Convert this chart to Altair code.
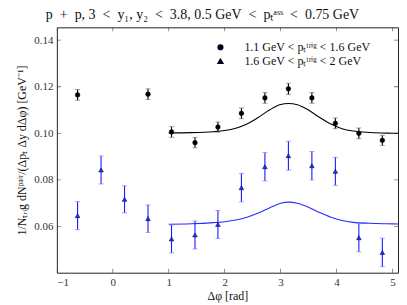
import altair as alt
import pandas as pd

# ---- data ----
x_black = [-0.63, 0.63, 1.05, 1.47, 1.88, 2.30, 2.72, 3.14, 3.56, 3.98, 4.40, 4.82]
y_black = [0.1165, 0.1168, 0.1006, 0.0960, 0.1027, 0.1086, 0.1152, 0.1191, 0.1152, 0.1043, 0.1000, 0.0970]
e_black = [0.0023, 0.0023, 0.0023, 0.0022, 0.0022, 0.0023, 0.0023, 0.0024, 0.0023, 0.0023, 0.0023, 0.0022]

x_blue = [-0.63, -0.21, 0.21, 0.63, 1.05, 1.47, 1.88, 2.30, 2.72, 3.14, 3.56, 3.98, 4.40, 4.82]
y_blue = [0.0647, 0.0843, 0.0717, 0.0634, 0.0547, 0.0564, 0.0609, 0.0767, 0.0857, 0.0904, 0.0861, 0.0837, 0.0552, 0.0489]
e_blue = [0.0060, 0.0060, 0.0058, 0.0059, 0.0060, 0.0060, 0.0060, 0.0061, 0.0061, 0.0062, 0.0061, 0.0060, 0.0060, 0.0061]

x_curve = [1.0, 1.4, 1.8, 2.0, 2.2, 2.4, 2.6, 2.8, 3.0, 3.14, 3.3, 3.5, 3.7, 3.9, 4.1, 4.3, 4.6, 4.9, 5.1]
y_curve_black = [0.1002, 0.1003, 0.1007, 0.1012, 0.1022, 0.1040, 0.1068, 0.1100, 0.1124, 0.1128,
                 0.1123, 0.1100, 0.1068, 0.1040, 0.1020, 0.1010, 0.1004, 0.1001, 0.1000]
y_curve_blue = [0.0610, 0.0612, 0.0617, 0.0621, 0.0628, 0.0640, 0.0658, 0.0680, 0.0700, 0.0705,
                0.0700, 0.0683, 0.0660, 0.0640, 0.0626, 0.0618, 0.0614, 0.0612, 0.0611]

x_ticks = [-1, 0, 1, 2, 3, 4, 5]
y_ticks = [0.06, 0.08, 0.10, 0.12, 0.14]
x_domain = [-1.0, 5.1]
y_domain = [0.0402, 0.1455]

label_black = "1.1 GeV < pₜᵗʳⁱᵍ < 1.6 GeV"
label_blue = "1.6 GeV < pₜᵗʳⁱᵍ < 2 GeV"
title_text = ("p\u2002+\u2002p, 3\u2002<\u2002y₁, y₂\u2002<\u20023.8, "
              "0.5 GeV\u2002<\u2002pₜᵃˢˢ\u2002<\u20020.75 GeV")
x_title = "Δφ [rad]"
y_title = "1/Nₜᵣᵢg dNᵖᵃⁱʳ/(Δpₜ Δy dΔφ) [GeV⁻¹]"

FONT = "Liberation Serif"
W, H = 342, 246

# ---- tables ----
df_b = pd.DataFrame({"x": x_black, "y": y_black, "e": e_black, "series": label_black})
df_b["lo"] = df_b["y"] - df_b["e"]
df_b["hi"] = df_b["y"] + df_b["e"]
df_u = pd.DataFrame({"x": x_blue, "y": y_blue, "e": e_blue, "series": label_blue})
df_u["lo"] = df_u["y"] - df_u["e"]
df_u["hi"] = df_u["y"] + df_u["e"]
df_pts = pd.concat([df_b, df_u], ignore_index=True)

df_curve = pd.concat([
    pd.DataFrame({"x": x_curve, "y": y_curve_black, "c": "black"}),
    pd.DataFrame({"x": x_curve, "y": y_curve_blue, "c": "blue"}),
], ignore_index=True)

xs = alt.Scale(domain=x_domain, nice=False, zero=False)
ys = alt.Scale(domain=y_domain, nice=False, zero=False)

X = alt.X("x:Q", scale=xs, axis=alt.Axis(values=x_ticks, title=x_title, format="d"))
Y = alt.Y("y:Q", scale=ys, axis=alt.Axis(values=y_ticks, title=y_title, format=".2f"))

base_b = alt.Chart(df_b)
base_u = alt.Chart(df_u)

curves = alt.Chart(df_curve).mark_line(strokeWidth=1.1, clip=True, interpolate="monotone").encode(
    x=X, y=Y,
    detail="c:N",
    color=alt.Color("c:N", scale=alt.Scale(domain=["black", "blue"], range=["#000000", "#2a2aff"]), legend=None),
)

err_b = base_b.mark_rule(color="#000000", strokeWidth=1.1).encode(x=X, y=alt.Y("lo:Q", scale=ys), y2="hi:Q")
cap_b_lo = base_b.mark_tick(orient="horizontal", size=5, thickness=1, color="#777777").encode(x=X, y=alt.Y("lo:Q", scale=ys))
cap_b_hi = base_b.mark_tick(orient="horizontal", size=5, thickness=1, color="#777777").encode(x=X, y=alt.Y("hi:Q", scale=ys))

err_u = base_u.mark_rule(color="#1a1aff", strokeWidth=1.1).encode(x=X, y=alt.Y("lo:Q", scale=ys), y2="hi:Q")
cap_u_lo = base_u.mark_tick(orient="horizontal", size=5, thickness=1, color="#7d7dff").encode(x=X, y=alt.Y("lo:Q", scale=ys))
cap_u_hi = base_u.mark_tick(orient="horizontal", size=5, thickness=1, color="#7d7dff").encode(x=X, y=alt.Y("hi:Q", scale=ys))

points = alt.Chart(df_pts).mark_point(filled=True, size=22, opacity=1, stroke="#000022", strokeWidth=0.5).encode(
    x=X, y=Y,
    color=alt.Color("series:N", scale=alt.Scale(domain=[label_black, label_blue], range=["#000000", "#1010c8"]), title=None),
    shape=alt.Shape("series:N", scale=alt.Scale(domain=[label_black, label_blue], range=["circle", "triangle-up"]), title=None),
)

# inward axis ticks (clipped half-ticks at the frame edges)
df_xt = pd.DataFrame({"x": x_ticks})
df_yt = pd.DataFrame({"y": y_ticks})
xt_bot = alt.Chart(df_xt).mark_tick(orient="vertical", size=8, thickness=0.8, color="#333333", clip=True).encode(
    x=alt.X("x:Q", scale=xs), y=alt.datum(y_domain[0], scale=ys))
xt_top = alt.Chart(df_xt).mark_tick(orient="vertical", size=8, thickness=0.8, color="#333333", clip=True).encode(
    x=alt.X("x:Q", scale=xs), y=alt.datum(y_domain[1], scale=ys))
yt_left = alt.Chart(df_yt).mark_tick(orient="horizontal", size=8, thickness=0.8, color="#333333", clip=True).encode(
    y=alt.Y("y:Q", scale=ys), x=alt.datum(x_domain[0], scale=xs))
yt_right = alt.Chart(df_yt).mark_tick(orient="horizontal", size=8, thickness=0.8, color="#333333", clip=True).encode(
    y=alt.Y("y:Q", scale=ys), x=alt.datum(x_domain[1], scale=xs))

# chart title as a text mark just above the plot frame
title_mark = alt.Chart(pd.DataFrame({"t": [title_text]})).mark_text(
    font=FONT, fontSize=14, color="#111111", align="center", baseline="alphabetic", clip=False,
).encode(text="t:N", x=alt.value(146), y=alt.value(-8.3))

chart = alt.layer(
    curves, err_b, cap_b_lo, cap_b_hi, err_u, cap_u_lo, cap_u_hi, points,
    xt_bot, xt_top, yt_left, yt_right, title_mark,
).properties(
    width=W, height=H,
    autosize=alt.AutoSizeParams(type="none"),
    padding={"left": 49, "top": 19, "right": 1, "bottom": 32},
).configure_view(
    stroke="#222222", strokeWidth=1,
).configure_axis(
    grid=False, ticks=False, domain=False,
    labelFont=FONT, labelFontSize=11, labelColor="#333333", labelPadding=4,
    titleFont=FONT, titleFontSize=12, titleFontWeight="normal", titleColor="#111111",
).configure_axisY(titlePadding=5).configure_axisX(titlePadding=3).configure_legend(
    orient="none", legendX=158, legendY=14,
    labelFont=FONT, labelFontSize=12, labelColor="#111111",
    symbolSize=22, rowPadding=2, labelOffset=18, padding=0,
)

chart.save("out.html", embed_options={"renderer": "svg", "actions": False})
